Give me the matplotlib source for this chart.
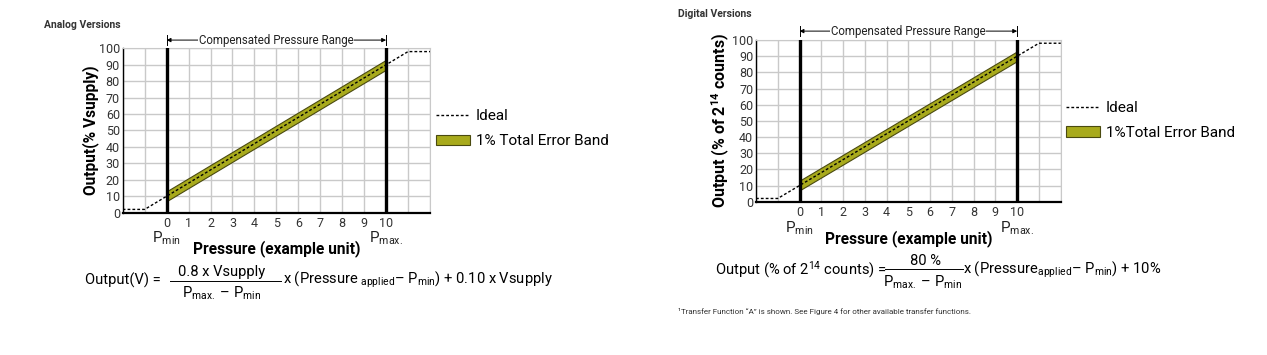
import numpy as np
import matplotlib
matplotlib.use("Agg")
import matplotlib.pyplot as plt
from matplotlib.lines import Line2D
from matplotlib.patches import Patch
import matplotlib.transforms as mtransforms

plt.rcParams["font.family"] = ["Roboto", "DejaVu Sans"]
plt.rcParams["mathtext.fontset"] = "custom"
plt.rcParams["mathtext.rm"] = "Roboto"
plt.rcParams["mathtext.it"] = "Roboto:italic"
plt.rcParams["mathtext.bf"] = "Roboto:bold"

# data
ideal_x = [-2, -1, 0, 10, 11, 12]
ideal_y = [2, 2, 10, 90, 98, 98]
band_x = [0, 10]
band_low = [7, 87]
band_high = [13, 93]
x_ticks = list(range(-2, 13))
y_ticks = list(range(0, 101, 10))
band_color = "#a8aa1c"
band_edge = "#4a4a10"

W, H = 1267, 355
fig = plt.figure(figsize=(W / 100, H / 100), dpi=100)


def fx(px):
    return px / W


def fy(py):
    return 1 - py / H


def draw_panel(rect, ylabel, ylab_size, pmin_y, xlab_y, range_y):
    ax = fig.add_axes(rect)
    ax.set_xlim(-2, 12)
    ax.set_ylim(0, 100)
    ax.set_xticks(x_ticks)
    ax.set_xticklabels([str(t) if 0 <= t <= 10 else "" for t in x_ticks])
    ax.set_yticks(y_ticks)
    ax.tick_params(length=0, labelsize=9, colors="#333333")
    ax.tick_params(axis="y", pad=2)
    ax.tick_params(axis="x", pad=3)
    ax.grid(True, color="#c9c9c9", linewidth=1)
    ax.set_axisbelow(True)
    for s in ["top", "right"]:
        ax.spines[s].set_color("#c9c9c9")
    ax.spines["left"].set_color("black")
    ax.spines["left"].set_linewidth(1)
    ax.spines["bottom"].set_color("black")
    ax.spines["bottom"].set_linewidth(1.6)

    ax.fill_between(band_x, band_low, band_high, color=band_color,
                    edgecolor=band_edge, linewidth=0.8, zorder=3)
    ax.plot(ideal_x, ideal_y, color="black", linestyle=(0, (2, 1.5)),
            linewidth=1, zorder=4)
    for xv in [0, 10]:
        ax.axvline(xv, color="black", linewidth=2.4, zorder=5)

    blend = mtransforms.blended_transform_factory(ax.transData, ax.transAxes)
    ax.text(0, pmin_y, r"P$_{\mathrm{min}}$", transform=blend, ha="center",
            va="center", fontsize=11, color="#222222")
    ax.text(10, pmin_y, r"P$_{\mathrm{max.}}$", transform=blend, ha="center",
            va="center", fontsize=11, color="#222222")
    ax.text(5, xlab_y, "Pressure (example unit)", transform=blend,
            ha="center", va="center", fontsize=11.2, fontweight="bold")
    ax.set_ylabel(ylabel, fontsize=ylab_size, fontweight="bold", labelpad=0)

    # compensated pressure range marker
    ax.annotate("", xy=(0, range_y), xytext=(10, range_y),
                arrowprops=dict(arrowstyle="<|-|>", color="black", lw=0.7,
                                mutation_scale=6, shrinkA=0, shrinkB=0),
                annotation_clip=False)
    for xv in [0, 10]:
        ax.plot([xv, xv], [range_y - 3, range_y + 3], color="black",
                linewidth=0.7, clip_on=False)
    ax.text(5, range_y, "Compensated Pressure Range", ha="center",
            va="center", fontsize=8.3, color="#222222",
            bbox=dict(facecolor="white", edgecolor="none", pad=0.5))
    return ax


ax1 = draw_panel([fx(122.7), fy(212.7), fx(430) - fx(122.7), fy(48.3) - fy(212.7)],
                 "Output(% Vsupply)", 11.2, -0.155, -0.215, 105)
ax2 = draw_panel([fx(756), fy(201.7), fx(1060.7) - fx(756), fy(40) - fy(201.7)],
                 r"Output (% of 2$^{\mathbf{14}}$ counts)", 11.5, -0.162, -0.228, 105.5)

handles = [Line2D([], [], color="black", linestyle=(0, (2, 1.5)), linewidth=1),
           Patch(facecolor=band_color, edgecolor=band_edge, linewidth=0.8)]
fig.legend(handles, ["Ideal", "1% Total Error Band"], loc="upper left",
           bbox_to_anchor=(fx(436), fy(109)), frameon=False, fontsize=11,
           handlelength=2.2, handletextpad=0.4, labelspacing=0.75,
           borderpad=0, borderaxespad=0)
fig.legend(handles, ["Ideal", "1%Total Error Band"], loc="upper left",
           bbox_to_anchor=(fx(1066), fy(101)), frameon=False, fontsize=11,
           handlelength=2.2, handletextpad=0.4, labelspacing=0.7,
           borderpad=0, borderaxespad=0)

fig.text(fx(44), fy(25), "Analog Versions", fontsize=7.5, fontweight="bold",
         va="center", color="#333333")
fig.text(fx(678), fy(14), "Digital Versions", fontsize=7.5, fontweight="bold",
         va="center", color="#333333")

# analog formula
fs = 10.6
fig.text(fx(85), fy(280), "Output(V) =", fontsize=fs, va="center")
fig.text(fx(222), fy(272), "0.8 x Vsupply", fontsize=fs, va="center", ha="center")
fig.add_artist(Line2D([fx(170), fx(281)], [fy(281), fy(281)], color="black", lw=0.7))
fig.text(fx(222), fy(293), r"P$_{\mathrm{max.}}$ – P$_{\mathrm{min}}$", fontsize=fs,
         va="center", ha="center")
fig.text(fx(283), fy(280),
         r"x (Pressure$_{\mathrm{\ applied}}$– P$_{\mathrm{min}}$) + 0.10 x Vsupply",
         fontsize=fs, va="center")

# digital formula
fig.text(fx(715), fy(270), r"Output (% of 2$^{14}$ counts) =", fontsize=fs, va="center")
fig.text(fx(925), fy(261), "80 %", fontsize=fs, va="center", ha="center")
fig.add_artist(Line2D([fx(885), fx(963)], [fy(269), fy(269)], color="black", lw=0.7))
fig.text(fx(923), fy(282), r"P$_{\mathrm{max.}}$ – P$_{\mathrm{min}}$", fontsize=fs,
         va="center", ha="center")
fig.text(fx(963), fy(270),
         r"x (Pressure$_{\mathrm{applied}}$– P$_{\mathrm{min}}$) + 10%",
         fontsize=fs, va="center")

fig.text(fx(678), fy(311),
         "\u00b9Transfer Function \u201cA\u201d is shown. See Figure 4 for other available transfer functions.",
         fontsize=5.8, va="center", color="#333333")

fig.savefig("out.png", dpi=100)
